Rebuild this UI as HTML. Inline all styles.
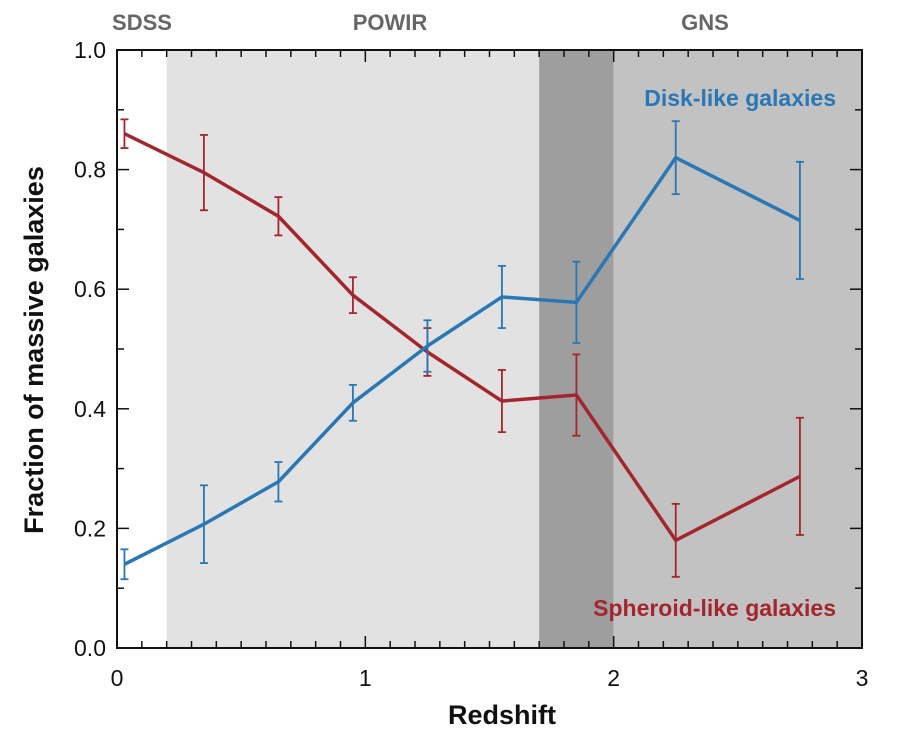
<!DOCTYPE html>
<html><head><meta charset="utf-8"><style>
body{margin:0;background:#fff;}
svg text{font-family:"Liberation Sans",Arial,sans-serif;}
</style></head><body>
<svg id="chart" width="906" height="744" xmlns="http://www.w3.org/2000/svg"></svg>
<script>
const redshifts=[0.03,0.35,0.65,0.95,1.25,1.55,1.85,2.25,2.75];
const diskValues=[0.14,0.207,0.278,0.41,0.505,0.587,0.578,0.82,0.715];
const diskErrors=[0.025,0.065,0.033,0.03,0.043,0.052,0.068,0.061,0.098];
const spheroidValues=[0.86,0.795,0.722,0.59,0.495,0.413,0.423,0.18,0.287];
const spheroidErrors=[0.024,0.063,0.032,0.03,0.04,0.052,0.068,0.061,0.098];
const xTickLabels=["0","1","2","3"];
const yTickLabels=["0.0","0.2","0.4","0.6","0.8","1.0"];
const regions=[{from:0.2,to:1.7,color:"#e2e2e2",name:"powir-region"},{from:1.7,to:2.0,color:"#9e9e9e",name:"overlap-region"},{from:2.0,to:3.0,color:"#c2c2c2",name:"gns-region"}];

const L=117,R=862,T=50,B=648;
const X=v=>L+v/3*(R-L);
const Y=v=>B-v*(B-T);
const svg=document.getElementById('chart');
const NS="http://www.w3.org/2000/svg";
function mk(tag,attrs,parent){const e=document.createElementNS(NS,tag);for(const k in attrs)e.setAttribute(k,attrs[k]);(parent||svg).appendChild(e);return e;}

regions.forEach(r=>{
 const e=mk('rect',{x:X(r.from),y:T,width:X(r.to)-X(r.from),height:B-T,fill:r.color});
 
 
});

for(let i=0;i<=30;i++){
 const x=X(i/10),len=(i%10===0)?12:7;
 mk('line',{x1:x,y1:B,x2:x,y2:B-len,stroke:'#111','stroke-width':1.5});
 mk('line',{x1:x,y1:T,x2:x,y2:T+len,stroke:'#111','stroke-width':1.5});
}
for(let i=0;i<=10;i++){
 const y=Y(i/10),len=(i%2===0)?12:7;
 mk('line',{x1:L,y1:y,x2:L+len,y2:y,stroke:'#111','stroke-width':1.5});
 mk('line',{x1:R,y1:y,x2:R-len,y2:y,stroke:'#111','stroke-width':1.5});
}
const frame=mk('rect',{x:L,y:T,width:R-L,height:B-T,fill:'none',stroke:'#111','stroke-width':2});



xTickLabels.forEach((t,i)=>{
 const e=mk('text',{x:X(i),y:686,'text-anchor':'middle','font-size':23,fill:'#111'});e.textContent=t;
 
 
});
yTickLabels.forEach((t,i)=>{
 const e=mk('text',{x:106,y:Y(i*0.2)+8,'text-anchor':'end','font-size':23,fill:'#111'});e.textContent=t;
 
 
});

function series(vals,errs,color,name){
 const g=mk('g',{});
 
 
 mk('polyline',{points:vals.map((v,i)=>X(redshifts[i])+','+Y(v)).join(' '),fill:'none',stroke:color,'stroke-width':3.5,'stroke-linejoin':'round'},g);
 vals.forEach((v,i)=>{
  const x=X(redshifts[i]),y1=Y(v-errs[i]),y2=Y(v+errs[i]);
  const eb=mk('g',{stroke:color,'stroke-width':1.8},g);
  
  
  mk('line',{x1:x,y1:y1,x2:x,y2:y2},eb);
  mk('line',{x1:x-4,y1:y1,x2:x+4,y2:y1},eb);
  mk('line',{x1:x-4,y1:y2,x2:x+4,y2:y2},eb);
 });
}
series(spheroidValues,spheroidErrors,'#a3262e','spheroid-series');
series(diskValues,diskErrors,'#2a77b5','disk-series');

function txt(s,attrs,name){const e=mk('text',attrs);e.textContent=s;return e;}
txt('Disk-like galaxies',{x:836,y:106,'text-anchor':'end','font-size':23,'font-weight':'bold',fill:'#2a77b5'},'disk-label');
txt('Spheroid-like galaxies',{x:836,y:616,'text-anchor':'end','font-size':23,'font-weight':'bold',fill:'#a3262e'},'spheroid-label');
txt('SDSS',{x:142,y:30,'text-anchor':'middle','font-size':22,'font-weight':'bold',fill:'#666'},'sdss-label');
txt('POWIR',{x:390,y:30,'text-anchor':'middle','font-size':22,'font-weight':'bold',fill:'#666'},'powir-label');
txt('GNS',{x:705,y:30,'text-anchor':'middle','font-size':22,'font-weight':'bold',fill:'#666'},'gns-label');
txt('Redshift',{x:502,y:724,'text-anchor':'middle','font-size':27,'font-weight':'bold',fill:'#111'},'x-axis-title');
txt('Fraction of massive galaxies',{x:0,y:0,'text-anchor':'middle','font-size':27,'font-weight':'bold',fill:'#111',transform:'translate(43,350) rotate(-90)'},'y-axis-title');
</script>
</body></html>
